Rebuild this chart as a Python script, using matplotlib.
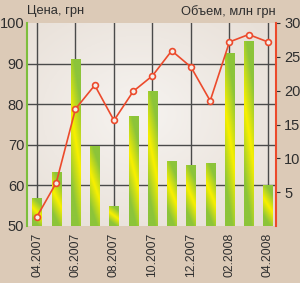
import numpy as np
import matplotlib
matplotlib.use("Agg")
import matplotlib.pyplot as plt
from matplotlib.colors import LinearSegmentedColormap

plt.rcParams['font.family'] = ['Liberation Sans', 'DejaVu Sans']

months = ["04.2007", "05.2007", "06.2007", "07.2007", "08.2007", "09.2007", "10.2007",
          "11.2007", "12.2007", "01.2008", "02.2008", "03.2008", "04.2008"]
price = [56.8, 63.4, 91.2, 69.7, 55.0, 77.1, 83.3, 66.1, 65.0, 65.6, 92.7, 95.6, 60.1]
volume = [1.4, 6.4, 17.3, 20.8, 15.6, 19.9, 22.2, 25.9, 23.5, 18.5, 27.2, 28.3, 27.2]
tick_labels = months[::2]

bg = '#dccab7'
green = '#7dbe3c'
red = '#ec4a2c'
grid = '#4a4a4a'
txt = '#2e2e2e'

fig = plt.figure(figsize=(3.0, 2.83), dpi=100)
fig.patch.set_facecolor(bg)
ax = fig.add_axes([27/300, 1-226/283, 249/300, 203/283])
x = np.arange(len(months))

# plot area background, light in the middle
yy, xx = np.mgrid[0:1:100j, 0:1:100j]
r = np.sqrt((xx-0.45)**2 + (yy-0.55)**2)
bgimg = np.clip(r/0.8, 0, 1)
bgcmap = LinearSegmentedColormap.from_list('bg', ['#f6f3f0', '#e6ddd4'])
ax.imshow(bgimg, cmap=bgcmap, extent=(-0.52, 12.42, 50, 100), aspect='auto',
          origin='lower', zorder=0)

for v in [60, 70, 80, 90]:
    ax.axhline(v, color=grid, lw=1.0, zorder=1)
for i in range(0, len(months), 2):
    ax.axvline(x[i], color=grid, lw=1.0, zorder=1)

bars = ax.bar(x, price, width=0.48, color='#c8dc20', zorder=2)
barcmap = LinearSegmentedColormap.from_list('bar', ['#f8f000', '#8cc43a'])
for b, p in zip(bars, price):
    t, s = np.mgrid[0:1:60j, 0:1:20j]
    g = np.clip(np.abs(t - 0.5 + 0.35*(s-0.5))*2.4, 0, 1)
    im = ax.imshow(g, cmap=barcmap, extent=(b.get_x(), b.get_x()+b.get_width(), 50, p),
                   aspect='auto', origin='lower', zorder=3)
    im.set_clip_path(b)
ax.set_xlim(-0.52, 12.42)
ax.set_ylim(50, 100)

ax.set_xticks(x[::2])
ax.set_xticklabels(tick_labels, rotation=90, fontsize=8.7, color=txt)
ax.set_yticks([50, 60, 70, 80, 90, 100])
ax.tick_params(axis='y', length=0, labelsize=10.5, colors=txt, pad=2)
ax.tick_params(axis='x', length=0, colors=txt, pad=5)
for s in ['top', 'bottom', 'right']:
    ax.spines[s].set_visible(False)
ax.spines['left'].set_color(green)
ax.spines['left'].set_linewidth(1.5)

ax2 = ax.twinx()
ax2.plot(x, volume, color=red, lw=1.2, marker='o', ms=4.2, mfc='#f4efea',
         mec=red, mew=1.2, zorder=5)
ax2.set_ylim(0, 30)
ax2.set_yticks([5, 10, 15, 20, 25, 30])
ax2.tick_params(axis='y', length=3, labelsize=10.5, colors=txt, pad=3)
for s in ['top', 'bottom', 'left']:
    ax2.spines[s].set_visible(False)
ax2.spines['right'].set_color(red)
ax2.spines['right'].set_linewidth(1.5)

fig.text(27/300, 1-5/283, "Цена, грн", fontsize=9.3, color=txt, ha='left', va='top')
fig.text(276/300, 1-5/283, "Объем, млн грн", fontsize=9.3, color=txt, ha='right', va='top')

fig.savefig("out.png", dpi=100, facecolor=bg)
